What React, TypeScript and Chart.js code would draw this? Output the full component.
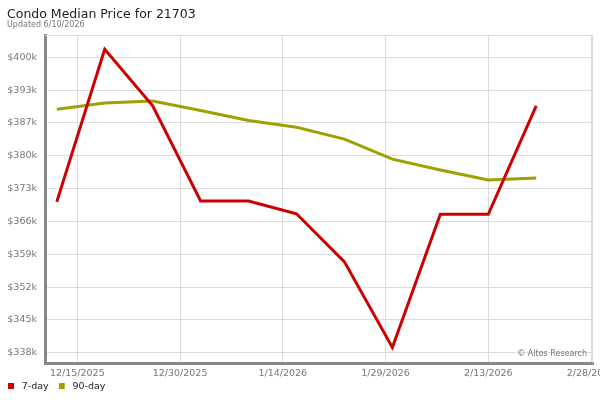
import React, { useEffect, useRef } from 'react';
import { Chart, registerables } from 'chart.js';

Chart.register(...registerables);

// ---- data ----
const dates = ['12/12/2025', '12/19/2025', '12/26/2025', '1/2/2026', '1/9/2026', '1/16/2026', '1/23/2026', '1/30/2026', '2/6/2026', '2/13/2026', '2/20/2026'];
const sevenDay = [370.4, 402.5, 390.6, 370.6, 370.6, 367.9, 357.8, 339.8, 367.8, 367.8, 390.6];
const ninetyDay = [389.9, 391.2, 391.6, 389.6, 387.5, 386.1, 383.6, 379.4, 377.1, 375.0, 375.4];
const xTickDates = ['12/15/2025', '12/30/2025', '1/14/2026', '1/29/2026', '2/13/2026', '2/28/2026'];
const yTickValues = [338.7, 345.6, 352.5, 359.4, 366.3, 373.2, 380.1, 387.0, 393.9, 400.8];
const yTickLabels = ['$338k', '$345k', '$352k', '$359k', '$366k', '$373k', '$380k', '$387k', '$393k', '$400k'];
const seriesNames = ['7-day', '90-day'];
const seriesColors = ['#cc0000', '#a0a000'];
const titleText = 'Condo Median Price for 21703';
const subtitleText = 'Updated 6/10/2026';
const watermarkText = '\u00A9 Altos Research';

const BASE = Date.UTC(2025, 11, 15);
const dayNum = (s: string) => {
  const [m, d, y] = s.split('/').map(Number);
  return (Date.UTC(y, m - 1, d) - BASE) / 86400000;
};

const FONT = '"DejaVu Sans", Verdana, sans-serif';

export default function App() {
  const ref = useRef<HTMLCanvasElement | null>(null);

  useEffect(() => {
    document.body.style.margin = '0';
    const canvas = ref.current;
    if (!canvas) return;

    const swatches = seriesColors.map((c) => {
      const s = document.createElement('canvas');
      s.width = 9;
      s.height = 6;
      const sc = s.getContext('2d')!;
      sc.fillStyle = c;
      sc.fillRect(0, 0, 6, 6);
      return s;
    });

    const framePlugin = {
      id: 'frame',
      beforeDatasetsDraw(chart: any) {
        const { ctx, chartArea: a } = chart;
        ctx.save();
        ctx.strokeStyle = '#dcdcdc';
        ctx.lineWidth = 1;
        ctx.beginPath();
        ctx.moveTo(a.left, a.top + 0.5);
        ctx.lineTo(a.right, a.top + 0.5);
        ctx.moveTo(a.right - 0.5, a.top);
        ctx.lineTo(a.right - 0.5, a.bottom);
        ctx.stroke();
        ctx.fillStyle = '#777';
        ctx.font = `8px ${FONT}`;
        ctx.textAlign = 'right';
        ctx.textBaseline = 'middle';
        ctx.fillText(watermarkText, a.right - 6, a.bottom - 9);
        ctx.restore();
      },
      afterDraw(chart: any) {
        const { ctx } = chart;
        ctx.save();
        ctx.textAlign = 'left';
        ctx.textBaseline = 'alphabetic';
        ctx.fillStyle = '#222';
        ctx.font = `12.5px ${FONT}`;
        ctx.fillText(titleText, 7, 18.3);
        ctx.fillStyle = '#777';
        ctx.font = `8px ${FONT}`;
        ctx.fillText(subtitleText, 7, 27.3);
        ctx.restore();
      },
    };

    const xs = dates.map(dayNum);

    const chart = new Chart(canvas, {
      type: 'line',
      data: {
        datasets: [
          {
            label: seriesNames[0],
            data: xs.map((x, i) => ({ x, y: sevenDay[i] })),
            borderColor: seriesColors[0],
            backgroundColor: seriesColors[0],
            borderWidth: 3,
            pointRadius: 0,
            tension: 0,
            fill: false,
          },
          {
            label: seriesNames[1],
            data: xs.map((x, i) => ({ x, y: ninetyDay[i] })),
            borderColor: seriesColors[1],
            backgroundColor: seriesColors[1],
            borderWidth: 3,
            pointRadius: 0,
            tension: 0,
            fill: false,
          },
        ],
      },
      options: {
        responsive: false,
        animation: false,
        events: [],
        layout: { padding: { top: 35, left: -2, right: 7, bottom: -1 } },
        font: { family: FONT },
        scales: {
          x: {
            type: 'linear',
            min: -4.72,
            max: 75.29,
            afterBuildTicks: (axis: any) => {
              axis.ticks = xTickDates.map((d) => ({ value: dayNum(d) }));
            },
            afterFit: (scale: any) => {
              scale.height = 8.5;
              scale.paddingLeft = 0;
              scale.paddingRight = 0;
              scale._computeLabelArea = () => undefined;
            },
            ticks: {
              callback: (_v: any, i: number) => xTickDates[i],
              color: '#777',
              font: { family: FONT, size: 9.5 },
              padding: 5,
              maxRotation: 0,
              minRotation: 0,
              autoSkip: false,
            },
            grid: { color: '#dcdcdc', lineWidth: 1, drawTicks: false },
            border: { display: true, color: '#888', width: 3 },
          },
          y: {
            type: 'linear',
            min: 336.53,
            max: 405.49,
            afterBuildTicks: (axis: any) => {
              axis.ticks = yTickValues.map((v) => ({ value: v }));
            },
            afterFit: (scale: any) => {
              scale.width = 47;
            },
            ticks: {
              callback: (_v: any, i: number) => yTickLabels[i],
              color: '#777',
              font: { family: FONT, size: 9.5 },
              padding: 8,
              autoSkip: false,
            },
            grid: { color: '#dcdcdc', lineWidth: 1, drawTicks: false },
            border: { display: true, color: '#888', width: 3 },
          },
        },
        plugins: {
          title: { display: false },
          tooltip: { enabled: false },
          legend: {
            display: true,
            position: 'bottom',
            align: 'start',
            labels: {
              usePointStyle: true,
              pointStyleWidth: 9,
              boxHeight: 6,
              padding: 10,
              color: '#222',
              font: { family: FONT, size: 9.5 },
              generateLabels: (c: any) => {
                const items = (Chart as any).defaults.plugins.legend.labels.generateLabels(c);
                return items.map((it: any, i: number) => ({ ...it, pointStyle: swatches[i], lineWidth: 0 }));
              },
            },
          },
        },
      } as any,
      plugins: [framePlugin],
    });

    return () => {
      chart.destroy();
    };
  }, []);

  return (
    <div style={{ width: 600, height: 400, background: '#fff' }}>
      <canvas ref={ref} width={600} height={400} />
    </div>
  );
}
